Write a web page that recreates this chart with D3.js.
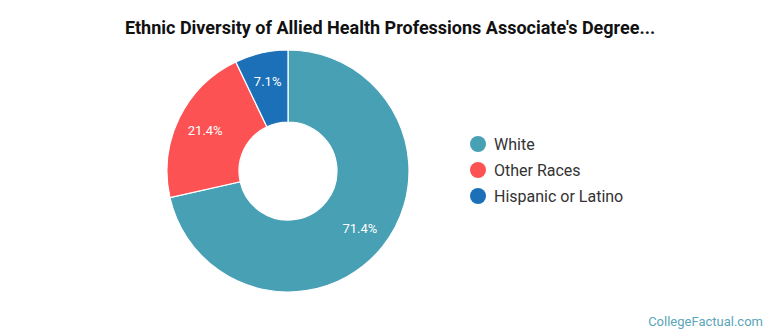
<!DOCTYPE html>
<html>
<head>
<meta charset="utf-8">
<title>Ethnic Diversity - donut</title>
<script src="https://cdn.jsdelivr.net/npm/d3@7/dist/d3.min.js"></script>
<style>
  body { margin: 0; background: #fff; font-family: Roboto, "Open Sans", sans-serif; }
</style>
</head>
<body>
<div id="chart"></div>
<script>
// chart data
var categories = ["White", "Other Races", "Hispanic or Latino"];
var percents = [71.4, 21.4, 7.1];
var colors = ["#48a0b4", "#fd5253", "#1c70b8"];

var width = 770, height = 335;
var cx = 288, cy = 171;
var outerR = 121, innerR = 49;

var svg = d3.select("#chart").append("svg")
  .attr("width", width)
  .attr("height", height);

// title
svg.append("text")
  .attr("x", 390)
  .attr("y", 34)
  .attr("text-anchor", "middle")
  .attr("font-size", 18)
  .attr("font-weight", "bold")
  .attr("fill", "#111")
  .text("Ethnic Diversity of Allied Health Professions Associate's Degree...");

var data = categories.map(function(c, i) {
  return { name: c, value: percents[i], color: colors[i] };
});

var pie = d3.pie().sort(null).value(function(d) { return d.value; });
var arc = d3.arc().innerRadius(innerR).outerRadius(outerR);
var labelArc = d3.arc().innerRadius(92).outerRadius(92);

var g = svg.append("g").attr("transform", "translate(" + cx + "," + cy + ")");

var arcs = pie(data);

g.selectAll("path")
  .data(arcs)
  .enter().append("path")
  .attr("d", arc)
  .attr("fill", function(d) { return d.data.color; })
  .attr("stroke", "#fff")
  .attr("stroke-width", 1.2);

g.selectAll("text.lbl")
  .data(arcs)
  .enter().append("text")
  .attr("class", "lbl")
  .attr("transform", function(d) { return "translate(" + labelArc.centroid(d) + ")"; })
  .attr("text-anchor", "middle")
  .attr("dy", "0.35em")
  .attr("font-size", 13)
  .attr("fill", "#fff")
  .text(function(d) { return d.data.value.toFixed(1) + "%"; });

// legend
var legend = svg.append("g").attr("transform", "translate(478,144)");
var items = legend.selectAll("g")
  .data(data)
  .enter().append("g")
  .attr("transform", function(d, i) { return "translate(0," + (i * 26) + ")"; });

items.append("circle")
  .attr("r", 8)
  .attr("fill", function(d) { return d.color; });

items.append("text")
  .attr("x", 16)
  .attr("dy", "0.35em")
  .attr("font-size", 16)
  .attr("fill", "#333")
  .text(function(d) { return d.name; });

// footer
svg.append("text")
  .attr("x", 763)
  .attr("y", 326)
  .attr("text-anchor", "end")
  .attr("font-size", 13)
  .attr("fill", "#5aa6b8")
  .text("CollegeFactual.com");
</script>
</body>
</html>
